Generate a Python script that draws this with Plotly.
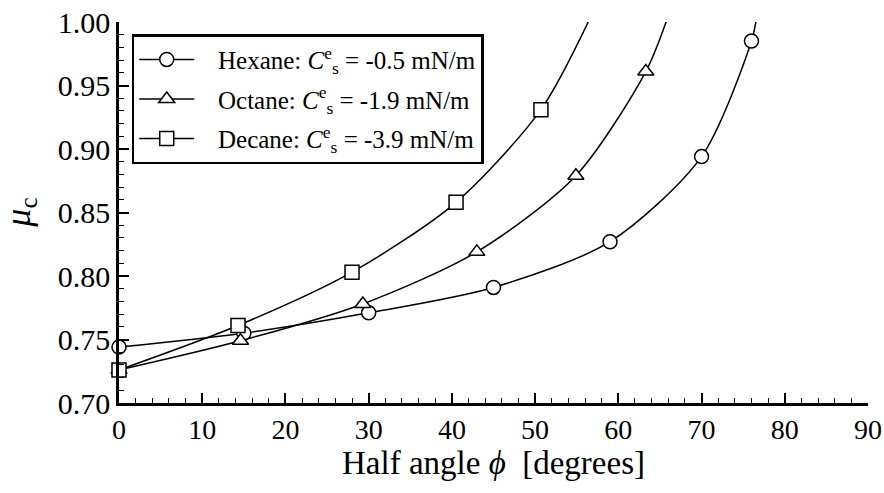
import plotly.graph_objects as go

# Data
hex_x = [0, 15, 30, 45, 59, 70, 76]
hex_y = [0.744, 0.755, 0.771, 0.791, 0.827, 0.894, 0.985]
hex_end = (76.6, 1.003)

oct_x = [0, 14.6, 29.3, 43.0, 54.9, 63.3]
oct_y = [0.726, 0.749, 0.778, 0.819, 0.879, 0.961]
oct_end = (65.9, 1.003)

dec_x = [0, 14.3, 28.0, 40.5, 50.7]
dec_y = [0.726, 0.761, 0.803, 0.858, 0.931]
dec_end = (56.6, 1.003)

x_ticks = list(range(0, 91, 10))
y_ticks = [0.70, 0.75, 0.80, 0.85, 0.90, 0.95, 1.00]

names = [
    "Hexane: <i>C</i><sup>e</sup><sub>s</sub> = -0.5 mN/m",
    "Octane: <i>C</i><sup>e</sup><sub>s</sub> = -1.9 mN/m",
    "Decane: <i>C</i><sup>e</sup><sub>s</sub> = -3.9 mN/m",
]
symbols = ["circle", "triangle-up", "square"]

series = [(hex_x, hex_y, hex_end), (oct_x, oct_y, oct_end), (dec_x, dec_y, dec_end)]

fig = go.Figure()
FONT = "Liberation Serif"
for (xs, ys, end) in series:
    fig.add_trace(go.Scatter(
        x=list(xs) + [end[0]], y=list(ys) + [end[1]], mode="lines",
        line=dict(color="black", width=1.5, shape="spline", smoothing=0.8),
        showlegend=False, hoverinfo="skip"))
for (xs, ys, end), sym in zip(series, symbols):
    fig.add_trace(go.Scatter(
        x=xs, y=ys, mode="markers", cliponaxis=False,
        marker=dict(symbol=sym, size=14, color="white",
                    line=dict(color="black", width=1.5)),
        showlegend=False))
for i, (nm, sym) in enumerate(zip(names, symbols)):
    fig.add_trace(go.Scatter(
        x=[None], y=[None], mode="lines+markers", name="\u00a0\u00a0\u00a0" + nm,
        legendgroup=f"g{i}",
        line=dict(color="black", width=1.5),
        marker=dict(symbol=sym, size=14, color="white",
                    line=dict(color="black", width=1.5))))

fig.add_annotation(
    text="<i>μ</i><sub>c</sub>", xref="paper", yref="paper",
    x=-0.132, y=0.5, xanchor="center", yanchor="middle",
    textangle=-90, showarrow=False, font=dict(family=FONT, size=36))

fig.update_layout(
    width=884, height=493,
    margin=dict(l=119, r=16, t=22, b=90),
    paper_bgcolor="white", plot_bgcolor="white",
    font=dict(family=FONT, color="black", size=28),
    legend=dict(x=0.017, y=0.968, xanchor="left", yanchor="top",
                bgcolor="white", bordercolor="black", borderwidth=2.5,
                font=dict(family=FONT, size=25), itemwidth=55,
                tracegroupgap=4),
    xaxis=dict(range=[0, 90], tickvals=x_ticks, automargin=False,
               ticks="inside", ticklen=10, tickwidth=1.5, tickcolor="black",
               minor=dict(dtick=2, ticks="inside", ticklen=5, tickwidth=1.2, tickcolor="black"),
               showline=True, linecolor="black", linewidth=2.5,
               showgrid=False, zeroline=False,
               tickfont=dict(family=FONT, size=28),
               title=dict(text="Half angle <i>ϕ</i>  [degrees]", font=dict(family=FONT, size=33), standoff=6)),
    yaxis=dict(range=[0.70, 1.00], tickvals=y_ticks,
               tickformat=".2f", automargin=False,
               ticks="inside", ticklen=10, tickwidth=1.5, tickcolor="black",
               minor=dict(dtick=0.01, ticks="inside", ticklen=5, tickwidth=1.2, tickcolor="black"),
               showline=True, linecolor="black", linewidth=2.5,
               showgrid=False, zeroline=False,
               tickfont=dict(family=FONT, size=30)),
)

fig.write_html("out.html")
